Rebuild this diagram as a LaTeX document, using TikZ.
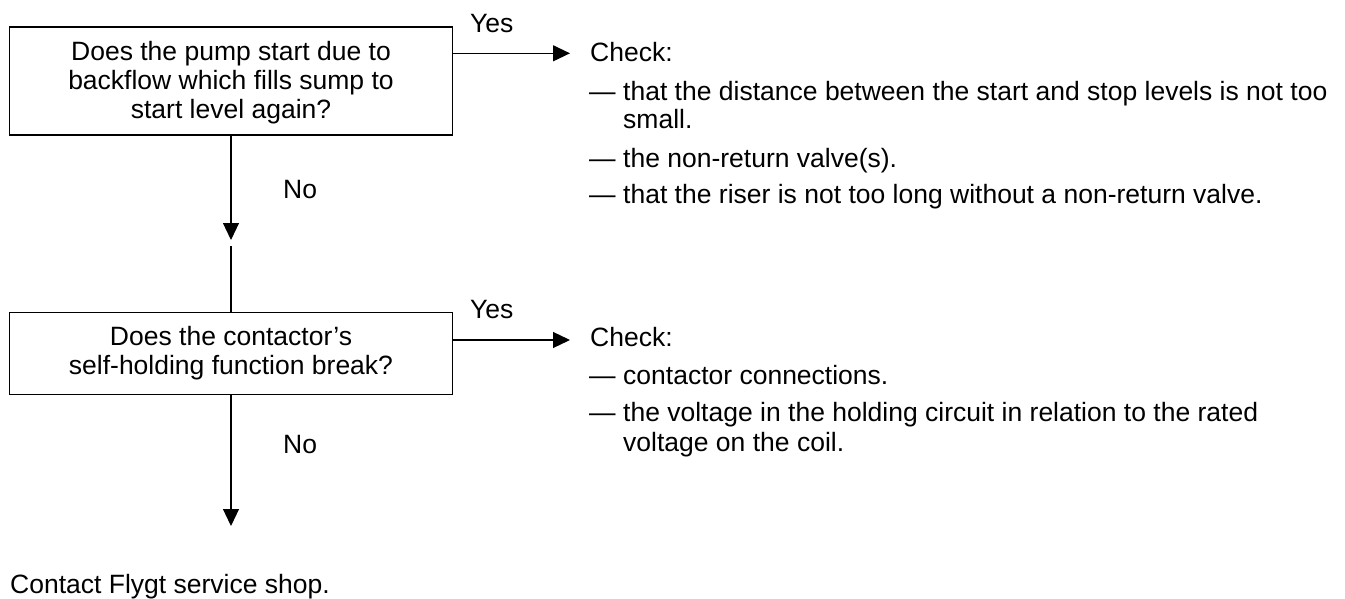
\documentclass[tikz,border=0pt]{standalone}
\usepackage{fontspec}
\setmainfont{Liberation Sans}
\usetikzlibrary{arrows.meta}
\begin{document}
\begin{tikzpicture}[x=1pt,y=-1pt,
  every node/.style={font=\fontsize{26.5}{29}\selectfont},
  qbox/.style={draw, line width=1.2pt, align=center, minimum width=443pt, inner sep=0pt},
  txt/.style={anchor=base west, inner sep=0pt},
  arr/.style={line width=1.2pt, -{Triangle[length=17pt,width=16pt]}},
  conn/.style={line width=1.2pt}]
\path[use as bounding box] (0,0) rectangle (1345,599);

% question boxes
\node[qbox, minimum height=108pt] (q1) at (231,81) {\rule{0pt}{23pt}Does the pump start due to\\backflow which fills sump to\\start level again?};
\node[qbox, minimum height=81.6pt] (q2) at (231,353.5) {Does the contactor’s\\self-holding function break?};

% connector coordinates
\coordinate (a1) at (231,240);
\coordinate (b1) at (231,246);
\coordinate (a2) at (231,526);
\coordinate (y1) at (570,53.3);
\coordinate (y2) at (570,340);

\draw[arr] (q1.south) -- (a1);
\draw[conn] (b1) -- (q2.north);
\draw[arr] (q2.south) -- (a2);
\draw[arr] (q1.east |- y1) -- (y1);
\draw[arr] (q2.east |- y2) -- (y2);

% labels
\node[txt] (yes1) at (470,33) {Yes};
\node[txt] (yes2) at (470,318.3) {Yes};
\node[txt] (no1) at (283,198.3) {No};
\node[txt] (no2) at (283,453.3) {No};

% check block 1
\node[txt] (c1h) at (590,62) {Check:};
\node[txt] (c1a) at (589,100.7) {\makebox[34pt][l]{—}that the distance between the start and stop levels is not too};
\node[txt] (c1b) at (623,129) {small.};
\node[txt] (c1c) at (589,167.3) {\makebox[34pt][l]{—}the non-return valve(s).};
\node[txt] (c1d) at (589,204) {\makebox[34pt][l]{—}that the riser is not too long without a non-return valve.};

% check block 2
\node[txt] (c2h) at (590,346.7) {Check:};
\node[txt] (c2a) at (589,384) {\makebox[34pt][l]{—}contactor connections.};
\node[txt] (c2b) at (589,421.7) {\makebox[34pt][l]{—}the voltage in the holding circuit in relation to the rated};
\node[txt] (c2c) at (623,451.7) {voltage on the coil.};

% final
\node[txt] (fin) at (10,593.3) {Contact Flygt service shop.};
\end{tikzpicture}
\end{document}
